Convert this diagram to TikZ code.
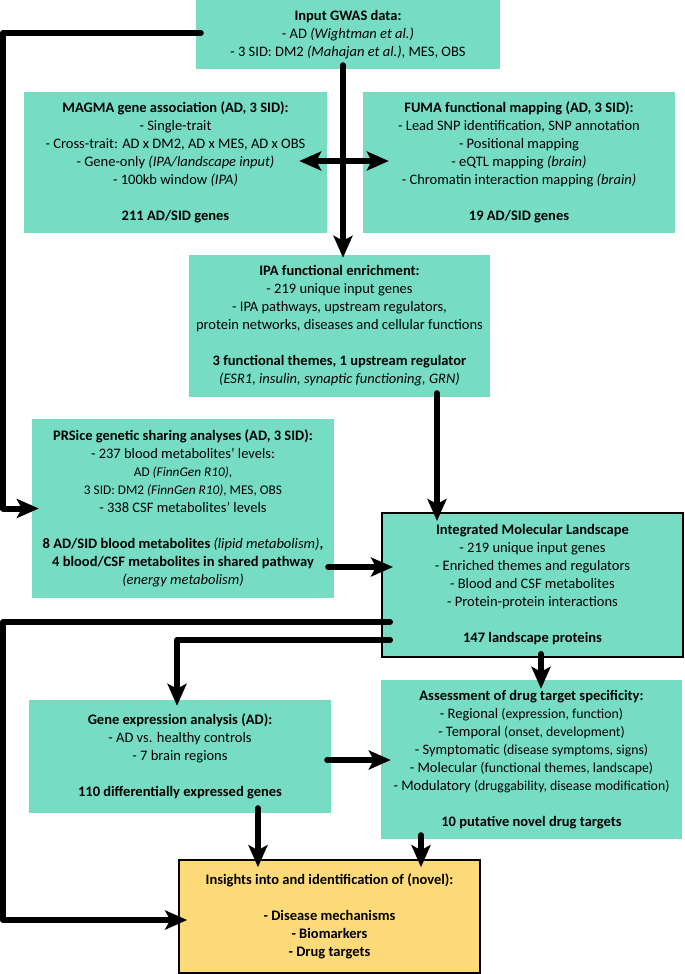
\documentclass[tikz,border=0pt]{standalone}
\usepackage{fontspec}
\setmainfont{Carlito}
\usetikzlibrary{arrows.meta,calc}
\definecolor{tealfill}{RGB}{118,221,196}
\definecolor{yellowfill}{RGB}{254,219,120}
\newcommand\smtxt[1]{{\fontsize{13.3}{18}\selectfont #1}}
\newcommand\smdrug[1]{{\fontsize{13.8}{18}\selectfont #1}}
\tikzset{
  box/.style={fill=tealfill, draw=none, inner sep=0pt, align=center,
    font=\fontsize{14.5}{18}\selectfont},
  framedbox/.style={box, draw=black, line width=2pt},
  goalbox/.style={box, fill=yellowfill, draw=black, line width=1.6pt},
  conn/.style={line width=6pt, line cap=round, line join=round},
  arr/.style={conn, -{Stealth[length=22pt,width=19pt,inset=5pt]}},
  dblarr/.style={conn, {Stealth[length=22pt,width=19pt,inset=5pt]}-{Stealth[length=22pt,width=19pt,inset=5pt]}},
}
\begin{document}
\begin{tikzpicture}[x=1pt,y=-1pt]
\useasboundingbox (0,0) rectangle (685,974);

\node[box, minimum width=304pt, minimum height=69pt] (input) at (348,34.5)
  {\textbf{Input GWAS data:}\\
   - AD \textit{(Wightman et al.)}\\
   - 3 SID: DM2 \textit{(Mahajan et al.)}, MES, OBS};

\node[box, minimum width=303pt, minimum height=141pt] (magma) at (175.5,162.5)
  {\textbf{MAGMA gene association (AD, 3 SID):}\\
   - Single-trait\\
   - Cross-trait: AD x DM2, AD x MES, AD x OBS\\
   - Gene-only \textit{(IPA/landscape input)}\\
   - 100kb window \textit{(IPA)}\\[18pt]
   \textbf{211 AD/SID genes}};

\node[box, minimum width=312pt, minimum height=141pt] (fuma) at (519,162.5)
  {\textbf{FUMA functional mapping (AD, 3 SID):}\\
   - Lead SNP identification, SNP annotation\\
   - Positional mapping\\
   - eQTL mapping \textit{(brain)}\\
   - Chromatin interaction mapping \textit{(brain)}\\[18pt]
   \textbf{19 AD/SID genes}};

\node[box, minimum width=301pt, minimum height=142pt] (ipa) at (339.5,326)
  {\textbf{IPA functional enrichment:}\\
   - 219 unique input genes\\
   - IPA pathways, upstream regulators,\\
   protein networks, diseases and cellular functions\\[18pt]
   \textbf{3 functional themes, 1 upstream regulator}\\
   \textit{(ESR1, insulin, synaptic functioning, GRN)}};

\node[box, minimum width=302pt, minimum height=179pt] (prsice) at (183,508.5)
  {\textbf{PRSice genetic sharing analyses (AD, 3 SID):}\\
   - 237 blood metabolites' levels:\\
   \smtxt{AD \textit{(FinnGen R10)},}\\
   \smtxt{3 SID: DM2 \textit{(FinnGen R10)}, MES, OBS}\\
   - 338 CSF metabolites' levels\\[18pt]
   \textbf{8 AD/SID blood metabolites} \textit{(lipid metabolism)}\textbf{,}\\
   \textbf{4 blood/CSF metabolites in shared pathway}\\
   \textit{(energy metabolism)}};

\node[framedbox, minimum width=301pt, minimum height=144pt] (integ) at (532.5,585)
  {\textbf{Integrated Molecular Landscape}\\
   - 219 unique input genes\\
   - Enriched themes and regulators\\
   - Blood and CSF metabolites\\
   - Protein-protein interactions\\[18pt]
   \textbf{147 landscape proteins}};

\node[box, minimum width=302pt, minimum height=113pt] (gene) at (180,756.5)
  {\textbf{Gene expression analysis (AD):}\\
   - AD vs. healthy controls\\
   - 7 brain regions\\[18pt]
   \textbf{110 differentially expressed genes}};

\node[box, minimum width=301pt, minimum height=159pt] (drug) at (531.5,759.5)
  {\textbf{Assessment of drug target specificity:}\\
   - Regional \smdrug{(expression, function)}\\
   - Temporal \smdrug{(onset, development)}\\
   - Symptomatic \smdrug{(disease symptoms, signs)}\\
   - Molecular \smdrug{(functional themes, landscape)}\\
   - Modulatory \smdrug{(druggability, disease modification)}\\[18pt]
   \textbf{10 putative novel drug targets}};

\node[goalbox, minimum width=301pt, minimum height=113pt] (insights) at (329.5,916.5)
  {\textbf{Insights into and identification of (novel):}\\[18pt]
   \textbf{- Disease mechanisms}\\
   \textbf{- Biomarkers}\\
   \textbf{- Drug targets}};

% helper coordinates
\coordinate (rail) at (3,0);
\coordinate (vx) at (343,0);
\coordinate (ix) at (437,0);
\coordinate (ya) at (0,567);
\coordinate (yb) at (0,622);
\coordinate (yc) at (0,640);
\coordinate (yd) at (0,920);
\coordinate (gx) at (177,0);
\coordinate (dx) at (541,0);
\coordinate (ye) at (0,760);
\coordinate (xf) at (258,0);
\coordinate (xg) at (421,0);

% connectors
\draw[arr] ($(input.west)+(5,-1.5)$) -- ($(rail |- input.west)+(0,-1.5)$) |- ($(prsice.west)+(7,0)$);
\draw[arr] ($(input.south -| vx)+(0,-4)$) -- ($(ipa.north -| vx)+(0,3)$);
\draw[dblarr] ($(magma.east)+(-28,-1.5)$) -- ($(fuma.west)+(26,-1.5)$);
\draw[arr] ($(ipa.south -| ix)+(0,-4)$) -- ($(integ.north -| ix)+(0,9)$);
\draw[arr] ($(prsice.east |- ya)+(-6,0)$) -- ($(integ.west |- ya)+(12,0)$);
\draw[arr] ($(integ.west |- yb)+(9,0)$) -- (rail |- yb) |- ($(insights.west |- yd)+(9,0)$);
\draw[arr] ($(integ.west |- yc)+(9,0)$) -| ($(gene.north -| gx)+(0,6)$);
\draw[arr] ($(integ.south -| dx)+(0,-4)$) -- ($(drug.north -| dx)+(0,9)$);
\draw[arr] ($(gene.east |- ye)+(-4,0)$) -- ($(drug.west |- ye)+(10,0)$);
\draw[arr] ($(gene.south -| xf)+(0,-5)$) -- ($(insights.north -| xf)+(0,8)$);
\draw[arr] ($(drug.south -| xg)+(0,-4)$) -- ($(insights.north -| xg)+(0,8)$);
\end{tikzpicture}
\end{document}
